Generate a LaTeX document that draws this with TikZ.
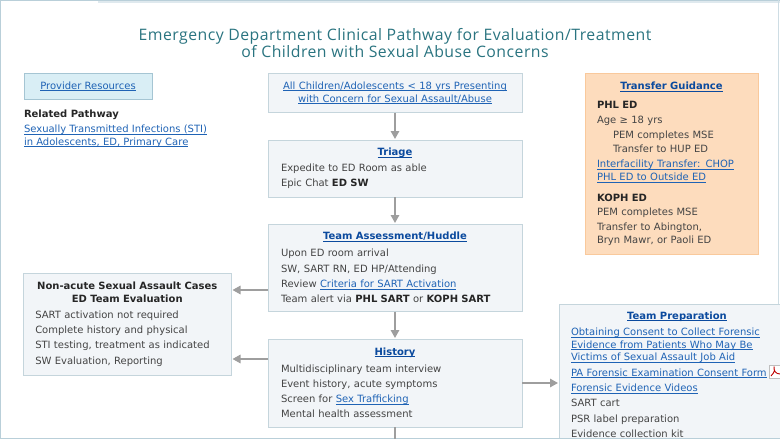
\documentclass[tikz,border=0pt]{standalone}
\usepackage{fontspec}
\setmainfont{DejaVu Sans}
\newfontfamily\titlefont[LetterSpace=3]{Open Sans}
\usepackage{tikz}
\usetikzlibrary {arrows.meta,
                 positioning}
\definecolor{framecol}{HTML}{B9CFD9}
\definecolor{boxfill}{HTML}{F2F5F8}
\definecolor{boxline}{HTML}{C5D5DC}
\definecolor{resfill}{HTML}{D9EEF5}
\definecolor{resline}{HTML}{A5C5D3}
\definecolor{orfill}{HTML}{FDDCBD}
\definecolor{orline}{HTML}{F9C99C}
\definecolor{linkcol}{HTML}{1F63B5}
\definecolor{headcol}{HTML}{0B4A9E}
\definecolor{bodycol}{HTML}{444444}
\definecolor{arrowcol}{HTML}{9E9E9E}
\definecolor{titlecol}{HTML}{2A7480}
\newcommand{\lnk}[1]{\vphantom{Ag}\textcolor{linkcol}{\underline{\smash{#1}}}}
\newcommand{\hd}[1]{\makebox[\hsize][c]{\vphantom{Ag}\textcolor{headcol}{\underline{\smash{\textbf{#1}}}}}}
\newcommand{\bk}[1]{\textcolor{black!85}{\textbf{#1}}}
\tikzset{
        x=1pt, y=1pt,
        base/.style={font=\fontsize{10}{12.8}\selectfont, text=bodycol,
                     inner sep=0pt, outer sep=0pt},
        flow/.style={base, draw=boxline, fill=boxfill, line width=0.9pt,
                     minimum width=254pt, text width=228pt, align=left},
        centerbox/.style={flow, align=center},
        myarrow/.style={-{Triangle[width=8.5pt,length=8pt]}, draw=arrowcol,
                        line width=1.5pt, shorten >=1pt},
 }
\begin{document}
\begin{tikzpicture}
    \useasboundingbox (0,0) rectangle (780,-439);
    \clip (0,0) rectangle (780,-439);
    \draw[framecol!45, line width=2pt] (98,-2) -- (780,-2);
    \draw[framecol, line width=1pt] (0,-0.5) -- (780,-0.5);
    \draw[framecol, line width=1.5pt] (0.7,0) -- (0.7,-439);
    \draw[framecol!70, line width=1.5pt] (778.5,0) -- (778.5,-439);

    \node[text=titlecol, align=center, font=\fontsize{15.8}{17}\selectfont\titlefont,
          inner sep=0pt] (title) at (395,-43)
          {Emergency Department Clinical Pathway for Evaluation/Treatment\\
           of Children with Sexual Abuse Concerns};

    % left column
    \node[base, draw=resline, fill=resfill, line width=0.9pt,
          minimum width=128pt, minimum height=26pt, anchor=north west] (res) at (24,-73.5)
          {\lnk{Provider Resources}};
    \node[base, anchor=north west, align=left] (related) at (24,-110)
          {\bk{Related Pathway}\\[2pt]
           \lnk{Sexually Transmitted Infections (STI)}\\
           \lnk{in Adolescents, ED, Primary Care}};

    % main flow
    \node[centerbox, minimum height=39pt, anchor=north west] (first) at (268,-73.5)
          {\lnk{All Children/Adolescents < 18 yrs Presenting}\\
           \lnk{with Concern for Sexual Assault/Abuse}};
    \node[flow, minimum height=57pt, below=27.5pt of first] (triage)
          {\hd{Triage}\\[2.5pt]
           Expedite to ED Room as able\\[2.5pt]
           Epic Chat \bk{ED SW}};
    \node[flow, minimum height=87.5pt, below=27pt of triage] (team)
          {\hd{Team Assessment/Huddle}\\[4pt]
           Upon ED room arrival\\[2.5pt]
           SW, SART RN, ED HP/Attending\\[2.5pt]
           Review \lnk{Criteria for SART Activation}\\[2.5pt]
           Team alert via \bk{PHL SART} or \bk{KOPH SART}};
    \node[flow, minimum height=88pt, below=27.5pt of team] (history)
          {\hd{History}\\[4pt]
           Multidisciplinary team interview\\[2.5pt]
           Event history, acute symptoms\\[2.5pt]
           Screen for \lnk{Sex Trafficking}\\[2.5pt]
           Mental health assessment};
    \coordinate (next) at (history.south |- 0,-445);

    % side boxes
    \node[base, draw=boxline, fill=boxfill, line width=0.9pt, minimum width=208.5pt,
          minimum height=102pt, text width=184pt, align=left, anchor=north west]
          (nonacute) at (23,-273)
          {\makebox[\hsize][c]{\bk{Non-acute Sexual Assault Cases}}\\
           \makebox[\hsize][c]{\bk{ED Team Evaluation}}\\[3.5pt]
           SART activation not required\\[2.5pt]
           Complete history and physical\\[2.5pt]
           STI testing, treatment as indicated\\[2.5pt]
           SW Evaluation, Reporting};
    \node[base, draw=orline, fill=orfill, line width=0.9pt, minimum width=173pt,
          minimum height=181pt, text width=149pt, align=left, anchor=north west]
          (transfer) at (585,-73.5)
          {\hd{Transfer Guidance}\\[6pt]
           \bk{PHL ED}\\[1.7pt]
           Age ≥ 18 yrs\\[2pt]
           \hspace*{16pt}PEM completes MSE\\[2pt]
           \hspace*{16pt}Transfer to HUP ED\\[2pt]
           \lnk{Interfacility Transfer: CHOP}\\
           \lnk{PHL ED to Outside ED}\\[8pt]
           \bk{KOPH ED}\\[1.7pt]
           PEM completes MSE\\[2pt]
           Transfer to Abington,\\
           Bryn Mawr, or Paoli ED};
    \node[base, draw=boxline, fill=boxfill, line width=0.9pt, minimum width=236pt,
          minimum height=160pt, text width=212pt, align=left, anchor=north west]
          (prep) at (559,-304)
          {\hd{Team Preparation}\\[3.5pt]
           \lnk{Obtaining Consent to Collect Forensic}\\
           \lnk{Evidence from Patients Who May Be}\\
           \lnk{Victims of Sexual Assault Job Aid}\\[2.5pt]
           \lnk{PA Forensic Examination Consent Form}\\[2.5pt]
           \lnk{Forensic Evidence Videos}\\[2.5pt]
           SART cart\\[2.5pt]
           PSR label preparation\\[2.5pt]
           Evidence collection kit\\[6pt]\mbox{}};
    % pdf icon
    \draw[fill=white, draw=black!25, line width=0.6pt] (769.5,-365.5) rectangle (781,-378);
    \draw[red!75!black, line width=0.9pt] (771,-376) .. controls (775,-372) and (775,-369) .. (774,-366.5)
          .. controls (773.5,-371) and (776,-374) .. (780,-374);
    \draw[framecol, line width=1.5pt] (0,-438.3) -- (780,-438.3);

    % connectors
    \coordinate (lefta) at (0,-290);
    \coordinate (leftb) at (0,-359);
    \coordinate (righta) at (0,-383);
    \draw[myarrow] (first) -- (triage);
    \draw[myarrow] (triage) -- (team);
    \draw[myarrow] (team) -- (history);
    \draw[draw=arrowcol, line width=1.5pt] (history) -- (next);
    \draw[myarrow] (team.west |- lefta) -- (nonacute.east |- lefta);
    \draw[myarrow] (history.west |- leftb) -- (nonacute.east |- leftb);
    \draw[myarrow] (history.east |- righta) -- (prep.west |- righta);
\end{tikzpicture}
\end{document}
